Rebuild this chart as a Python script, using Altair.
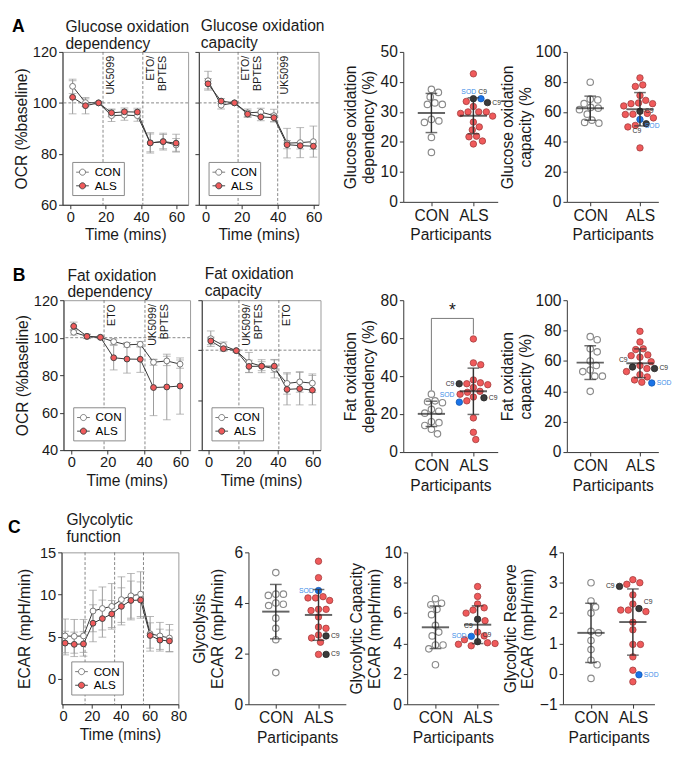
import altair as alt
import pandas as pd

FONT = "Liberation Sans"
RED = "#f05a5b"
RED_EDGE = "#a03c3c"
C9_FILL = "#3b3b3b"
SOD_FILL = "#1a73e8"
SOD_TEXT = "#3d8ee8"
GREY_EDGE = "#8a8a8a"
INK = "#1a1a1a"

groups = ["CON", "ALS"]

# ---------------- OCR time courses (panels A, B) ----------------
ocr_times = [1.3, 8.6, 16.0, 23.3, 30.6, 37.9, 45.2, 52.5, 59.8]

gdep_con_mean = [106.5, 100.1, 100.0, 95.0, 95.2, 95.0, 84.3, 84.8, 83.5]
gdep_con_sd = [2.8, 1.5, 0.5, 2.3, 2.0, 2.2, 3.5, 2.8, 2.5]
gdep_als_mean = [102.2, 98.9, 100.0, 96.1, 96.5, 96.4, 84.3, 84.8, 84.2]
gdep_als_sd = [6.5, 3.2, 0.5, 1.5, 1.5, 1.5, 4.0, 3.3, 3.5]
gdep_inj_t = [18.5, 41.0]
gdep_inj_lab = ["UK5099", "ETO/\nBPTES"]

gcap_con_mean = [108.7, 99.1, 100.0, 96.1, 96.4, 95.0, 84.2, 84.4, 84.8]
gcap_con_sd = [3.7, 1.5, 0.5, 1.5, 1.5, 2.5, 5.8, 5.9, 6.1]
gcap_als_mean = [107.5, 100.7, 100.0, 95.6, 94.5, 94.2, 83.6, 83.2, 83.0]
gcap_als_sd = [2.0, 1.0, 0.5, 1.3, 1.5, 1.5, 1.6, 1.3, 1.2]
gcap_inj_t = [18.0, 40.0]
gcap_inj_lab = ["ETO/\nBPTES", "UK5099"]

fdep_con_mean = [102.9, 100.7, 100.2, 97.9, 96.2, 96.5, 86.9, 87.6, 85.9]
fdep_con_sd = [1.5, 1.0, 0.5, 1.5, 1.2, 1.5, 1.6, 2.5, 2.2]
fdep_als_mean = [106.1, 100.7, 100.2, 89.3, 88.6, 88.5, 73.4, 73.7, 74.2]
fdep_als_sd = [2.2, 1.2, 0.5, 6.5, 7.5, 7.0, 15.0, 17.5, 15.0]
fdep_inj_t = [18.0, 40.5]
fdep_inj_lab = ["ETO", "UK5099/\nBPTES"]

fcap_con_mean = [104.6, 101.9, 99.8, 95.1, 93.6, 92.6, 86.7, 87.3, 86.8]
fcap_con_sd = [3.1, 1.4, 0.5, 4.0, 1.8, 3.7, 4.3, 4.1, 3.7]
fcap_als_mean = [103.7, 100.6, 99.8, 93.5, 93.6, 93.6, 84.3, 84.6, 84.0]
fcap_als_sd = [1.5, 1.0, 0.5, 2.5, 2.6, 2.5, 6.2, 6.5, 5.9]
fcap_inj_t = [17.5, 40.5]
fcap_inj_lab = ["UK5099/\nBPTES", "ETO"]

# ---------------- ECAR time course (panel C) ----------------
ecar_times = [1.5, 7.8, 14.2, 20.8, 27.3, 33.8, 40.5, 47.1, 53.8, 60.4, 67.2, 73.8]
ecar_con_mean = [5.1, 5.05, 5.1, 8.05, 8.35, 8.6, 9.4, 9.85, 10.05, 5.35, 5.1, 4.85]
ecar_con_sd = [2.0, 2.0, 1.95, 2.45, 2.55, 2.7, 2.7, 2.65, 2.65, 2.05, 1.6, 1.6]
ecar_als_mean = [4.25, 4.1, 4.15, 6.6, 7.15, 7.7, 8.6, 9.3, 9.35, 5.15, 4.6, 4.5]
ecar_als_sd = [1.4, 1.45, 1.45, 2.2, 2.2, 1.6, 2.2, 2.3, 2.15, 1.5, 1.3, 1.3]
ecar_inj_t = [15.3, 35.8, 55.8]

# ---------------- Participant scatter values ----------------
gdep_con = [37.5, 36.5, 35.0, 33.0, 32.5, 32.5, 27.5, 27.0, 26.5, 21.5, 16.5]
gdep_als = [42.7, 33.5, 31.8, 30.0, 30.0, 30.0, 29.5, 28.6, 26.6, 25.0, 24.0, 21.7, 21.9, 20.3, 19.3]
gdep_c9 = [34.4, 33.1]
gdep_sod = [34.4]

gcap_con = [79.8, 68.5, 68.0, 65.5, 63.0, 62.5, 61.5, 58.5, 54.5, 53.0, 52.5]
gcap_als = [82.7, 78.0, 77.0, 71.0, 67.7, 66.0, 65.5, 65.5, 64.0, 59.0, 58.5, 58.3, 56.0, 51.0, 50.0, 36.0]
gcap_c9 = [60.4, 52.1]
gcap_sod = [55.0]

fdep_con = [30.5, 27.0, 26.5, 26.0, 22.5, 21.5, 20.5, 16.0, 15.5, 14.0, 12.0, 9.6]
fdep_als = [59.6, 47.0, 46.0, 38.0, 36.5, 36.0, 35.5, 34.0, 32.0, 31.5, 30.5, 29.0, 27.0, 18.0, 10.4, 6.6]
fdep_c9 = [36.0, 28.6]
fdep_sod = [26.3]

fcap_con = [76.0, 74.0, 68.0, 66.0, 60.0, 57.0, 54.0, 53.0, 50.0, 50.0, 40.0]
fcap_als = [79.5, 72.5, 68.0, 67.5, 64.0, 63.5, 62.5, 59.5, 57.0, 55.0, 53.0, 51.0, 49.5, 47.5, 46.0]
fcap_c9 = [56.0, 55.0]
fcap_sod = [45.5]

glyc_con = [5.2, 4.35, 4.3, 4.35, 4.0, 3.95, 3.9, 3.4, 3.0, 2.55, 1.25]
glyc_als = [5.65, 5.0, 4.2, 4.2, 4.25, 4.1, 3.75, 3.7, 3.75, 3.45, 3.05, 3.0, 2.62, 2.74, 2.45, 1.97]
glyc_c9 = [2.7, 1.97]
glyc_sod = [4.49]

gcapy_con = [6.95, 6.65, 6.55, 6.25, 5.9, 5.2, 4.75, 4.5, 3.9, 3.9, 3.65, 2.6]
gcapy_als = [7.75, 7.1, 6.6, 6.35, 6.2, 6.0, 5.5, 4.75, 4.5, 4.25, 4.05, 4.0, 3.95, 3.85]
gcapy_c9 = [5.6, 4.12]
gcapy_sod = [4.47]

gres_con = [3.0, 2.4, 2.2, 2.0, 1.4, 1.35, 1.1, 0.8, 0.45, 0.3, -0.15]
gres_als = [3.1, 3.0, 2.95, 2.6, 2.3, 2.1, 2.1, 2.05, 1.7, 1.45, 0.97, 0.97, 0.56, 0.12, -0.26]
gres_c9 = [2.88, 2.15]
gres_sod = [-0.03]

LEG_SYMBOL = ("M-1,0L-0.48,0M0.48,0L1,0M-0.48,0A0.48,0.48,0,1,1,0.48,0"
              "A0.48,0.48,0,1,1,-0.48,0Z")

F_LAB = 15
F_LAB_DOT = 16
F_TITLE = 16


def line_panel(times, cm, cs, am, asd, inj_t, inj_lab, ydom, yticks, xdom, xticks,
               title, width, height, ytitle=None, show_ylabels=True, baseline=None,
               title_dx=2, title_offset=None, ytitle_pad=3):
    n = len(times)
    df = pd.DataFrame({"t": list(times) * 2,
                       "group": [groups[0]] * n + [groups[1]] * n,
                       "m": list(cm) + list(am),
                       "sd": list(cs) + list(asd)})
    xs = alt.Scale(domain=xdom, nice=False, zero=False)
    ys = alt.Scale(domain=ydom, nice=False, zero=False)
    xaxis = alt.Axis(values=xticks, title="Time (mins)", labelFontSize=F_LAB,
                     titleFontSize=F_TITLE, titleFontWeight="normal", tickSize=4,
                     labelPadding=1, titlePadding=3)
    yaxis = alt.Axis(values=yticks, title=ytitle, labels=show_ylabels, labelFontSize=F_LAB,
                     titleFontSize=F_TITLE, titleFontWeight="normal", tickSize=4,
                     labelPadding=2, titlePadding=ytitle_pad)
    X = alt.X("t:Q", scale=xs, axis=xaxis)
    layers = []
    guide = dict(color="#666", strokeDash=[3, 2], strokeWidth=0.8)
    layers.append(alt.Chart(pd.DataFrame({"t": inj_t})).mark_rule(**guide).encode(x=X))
    if baseline is not None:
        layers.append(alt.Chart(pd.DataFrame({"b": [baseline]})).mark_rule(**guide)
                      .encode(y=alt.Y("b:Q", scale=ys, axis=yaxis)))
    base = alt.Chart(df)
    eb = base.transform_calculate(lo="datum.m - datum.sd", hi="datum.m + datum.sd")
    layers.append(eb.mark_rule(color="#9a9a9a", strokeWidth=1)
                  .encode(x=X, y=alt.Y("lo:Q", scale=ys, axis=yaxis), y2="hi:Q"))
    layers.append(eb.transform_fold(["lo", "hi"], as_=["k", "cv"])
                  .mark_tick(orient="horizontal", size=8, thickness=1, color="#9a9a9a")
                  .encode(x=X, y=alt.Y("cv:Q", scale=ys, axis=yaxis)))
    layers.append(base.mark_line(color="#333", strokeWidth=1)
                  .encode(x=X, y=alt.Y("m:Q", scale=ys, axis=yaxis), detail="group:N"))
    leg = alt.Legend(orient="bottom-left", title=None, offset=10, padding=3, rowPadding=0,
                     strokeColor="#888", fillColor="white", labelFontSize=12,
                     labelFont=FONT, labelFontWeight="normal", symbolSize=170,
                     symbolStrokeWidth=1, symbolType=LEG_SYMBOL, labelOffset=5)
    layers.append(base.mark_circle(size=36, opacity=1, strokeWidth=1)
                  .encode(x=X, y=alt.Y("m:Q", scale=ys, axis=yaxis),
                          fill=alt.Fill("group:N", scale=alt.Scale(domain=groups, range=["white", RED]), legend=leg),
                          stroke=alt.Stroke("group:N", scale=alt.Scale(domain=groups, range=["#777", "#444"]), legend=leg)))
    if inj_lab:
        ldf = pd.DataFrame({"t": inj_t, "lab": inj_lab, "yy": [ydom[1]] * len(inj_t)})
        layers.append(alt.Chart(ldf).mark_text(angle=270, align="right", baseline="top", dx=-4, dy=2,
                                               fontSize=11, font=FONT, lineBreak="\n", color=INK)
                      .encode(x=X, y=alt.Y("yy:Q", scale=ys, axis=yaxis), text="lab:N"))
    if title_offset is None:
        title_offset = -7 if show_ylabels else 1
    return alt.layer(*layers).properties(
        width=width, height=height,
        title=alt.TitleParams(title, anchor="start", frame="group", fontSize=F_TITLE, lineHeight=17,
                              offset=title_offset, dx=title_dx, font=FONT, fontWeight="normal", color=INK),
        view=alt.ViewBackground(stroke="#999", strokeWidth=1))


def swarm(values, ypx, xpx, d=7.8):
    order = sorted(range(len(values)), key=lambda i: -values[i])
    placed = []
    offs = [0.0] * len(values)
    for i in order:
        y = values[i] * ypx
        cands = [0.0]
        for px, py in placed:
            dy = abs(py - y)
            if dy < d:
                w = (d * d - dy * dy) ** 0.5
                cands += [px - w, px + w]
        cands.sort(key=lambda c: (round(abs(c), 6), -c))
        chosen = 0.0
        for c in cands:
            if all((c - px) ** 2 + (y - py) ** 2 >= d * d - 1e-6 for px, py in placed):
                chosen = c
                break
        placed.append((chosen, y))
        offs[i] = chosen / xpx
    return offs


def place_labels(df, xpx, ypx, fs=7):
    """Choose a side / vertical shift for each C9/SOD label, avoiding points and other labels."""
    pts = [(r.x * xpx, -r.v * ypx) for r in df.itertuples()]
    boxes = []
    side = {i: "r" for i in df.index}
    shift = {i: 0 for i in df.index}
    special = df[df["lab"] != ""].sort_values("v", ascending=False)
    for idx, r in special.iterrows():
        px, py = r["x"] * xpx, -r["v"] * ypx
        w, h = 0.62 * fs * len(r["lab"]), fs + 1
        pref = "l" if r["off"] < -1e-9 else "r"
        other = "r" if pref == "l" else "l"
        best = None
        for k, (s, dy) in enumerate([(pref, 0), (other, 0), (pref, -7), (other, -7),
                                     (pref, 7), (other, 7)]):
            x0 = px + 5 if s == "r" else px - 5 - w
            y0 = py + dy - h / 2
            box = (x0, y0, x0 + w, y0 + h)
            score = 0
            for (qx, qy) in pts:
                if (qx, qy) == (px, py):
                    continue
                if box[0] - 3 < qx < box[2] + 3 and box[1] - 3 < qy < box[3] + 3:
                    score += 1
            for b in boxes:
                if not (box[2] < b[0] or box[0] > b[2] or box[3] < b[1] or box[1] > b[3]):
                    score += 10
            score = score * 10 + k
            if best is None or score < best[0]:
                best = (score, s, dy, box)
        side[idx], shift[idx] = best[1], best[2]
        boxes.append(best[3])
    return [side[i] for i in df.index], [shift[i] for i in df.index]


def dot_panel(con, als, c9, sod, ydom, yticks, xdom, ytitle, width, height, bracket=False, ytitle_pad=4):
    ypx = height / (ydom[1] - ydom[0])
    xpx = width / (xdom[1] - xdom[0])
    rows = []
    for v, o in zip(con, swarm(con, ypx, xpx)):
        rows.append({"xc": 0, "v": v, "kind": "con", "off": o})
    vals = list(als) + list(c9) + list(sod)
    kinds = ["als"] * len(als) + ["c9"] * len(c9) + ["sod"] * len(sod)
    for v, k, o in zip(vals, kinds, swarm(vals, ypx, xpx)):
        rows.append({"xc": 1, "v": v, "kind": k, "off": o})
    df = pd.DataFrame(rows)
    df["x"] = df["xc"] + df["off"]
    df["lab"] = df["kind"].map({"c9": "C9", "sod": "SOD"}).fillna("")
    df["side"], df["shift"] = place_labels(df, xpx, ypx)

    xs = alt.Scale(domain=xdom, nice=False, zero=False)
    ys = alt.Scale(domain=ydom, nice=False, zero=False)
    xaxis = alt.Axis(values=[0, 1], labelExpr=f"datum.value == 0 ? '{groups[0]}' : '{groups[1]}'",
                     title="Participants", labelFontSize=F_LAB_DOT, titleFontSize=F_TITLE,
                     titleFontWeight="normal", tickSize=4, labelPadding=2, titlePadding=4)
    yaxis = alt.Axis(values=yticks, title=ytitle, labelFontSize=F_LAB_DOT, titleFontSize=F_TITLE,
                     titleFontWeight="normal", titleLineHeight=18, tickSize=4,
                     labelPadding=2, titlePadding=ytitle_pad)
    X = alt.X("x:Q", scale=xs, axis=xaxis)
    Y = alt.Y("v:Q", scale=ys, axis=yaxis)
    base = alt.Chart(df)
    layers = []
    styles = [("con", "white", GREY_EDGE, 1.2), ("als", RED, RED_EDGE, 0.8),
              ("c9", C9_FILL, "#222", 0.8), ("sod", SOD_FILL, "#1559b0", 0.8)]
    for kind, fill, stroke, sw in styles:
        layers.append(base.transform_filter(alt.datum.kind == kind)
                      .mark_circle(size=44, opacity=1, fill=fill, stroke=stroke, strokeWidth=sw)
                      .encode(x=X, y=Y))
    stats = base.transform_aggregate(mean="mean(v)", sd="stdev(v)", groupby=["xc"]) \
        .transform_calculate(lo="datum.mean - datum.sd", hi="datum.mean + datum.sd")
    XC = alt.X("xc:Q", scale=xs, axis=xaxis)
    layers.append(stats.mark_rule(color="#333", strokeWidth=1.5)
                  .encode(x=XC, y=alt.Y("lo:Q", scale=ys, axis=yaxis), y2="hi:Q"))
    layers.append(stats.transform_fold(["lo", "hi"], as_=["k", "cv"])
                  .mark_tick(orient="horizontal", size=12, thickness=1.5, color="#333")
                  .encode(x=XC, y=alt.Y("cv:Q", scale=ys, axis=yaxis)))
    layers.append(stats.mark_tick(orient="horizontal", size=28, thickness=2, color="#222")
                  .encode(x=XC, y=alt.Y("mean:Q", scale=ys, axis=yaxis)))
    tcol = alt.Color("kind:N", scale=alt.Scale(domain=["c9", "sod"], range=["#333", SOD_TEXT]), legend=None)
    combos = sorted(set(zip(df.loc[df["lab"] != "", "side"], df.loc[df["lab"] != "", "shift"])))
    for s, dy in combos:
        layers.append(base.transform_filter((alt.datum.lab != "") & (alt.datum.side == s) & (alt.datum.shift == dy))
                      .mark_text(align="left" if s == "r" else "right", baseline="middle",
                                 dx=5 if s == "r" else -5, dy=dy, fontSize=7, font=FONT)
                      .encode(x=X, y=Y, text="lab:N", color=tcol))
    if bracket:
        vmax_con = max(con)
        vmax_als = max(vals)
        top = vmax_als + 10.8
        bdf = pd.DataFrame({"xc": [0, 0, 1, 1], "v": [vmax_con + 2.0, top, top, vmax_als + 2.4],
                            "o": [0, 1, 2, 3]})
        layers.append(alt.Chart(bdf).mark_line(color="#777", strokeWidth=1)
                      .encode(x=XC, y=alt.Y("v:Q", scale=ys, axis=yaxis), order="o:Q"))
        sdf = pd.DataFrame({"xc": [0.5], "v": [top], "s": ["*"]})
        layers.append(alt.Chart(sdf).mark_text(fontSize=18, font=FONT, baseline="bottom", dy=2, color=INK)
                      .encode(x=XC, y=alt.Y("v:Q", scale=ys, axis=yaxis), text="s:N"))
    return alt.layer(*layers).properties(width=width, height=height)


def spacer(w, h=10):
    return alt.Chart(pd.DataFrame({"s": [0]})).mark_point(opacity=0, size=1).encode(
        x=alt.value(0), y=alt.value(0)).properties(width=w, height=h)


def letter_chart(letter, dx):
    return alt.Chart(pd.DataFrame({"L": [letter]})).mark_text(
        font=FONT, fontSize=18, fontWeight="bold", align="left", baseline="alphabetic",
        color="black").encode(x=alt.value(dx), y=alt.value(-20), text="L:N").properties(width=1, height=10)


def row(letter, panels, ref_boxes, gap):
    """Place panels so that their plot areas sit near the reference x positions."""
    left0 = ref_boxes[0][0]
    items = [letter_chart(letter, -(left0 - 8 - 1 - gap))]
    for i, p in enumerate(panels):
        if i > 0:
            prev_right = ref_boxes[i - 1][0] + ref_boxes[i - 1][1]
            sp = ref_boxes[i][0] - prev_right - 2 * gap
            if sp >= 1:
                items.append(spacer(round(sp, 1)))
        items.append(p)
    ind = dict(fill="independent", stroke="independent")
    return alt.hconcat(*items, spacing=gap, bounds="flush").resolve_scale(**ind).resolve_legend(**ind)


A1 = line_panel(ocr_times, gdep_con_mean, gdep_con_sd, gdep_als_mean, gdep_als_sd, gdep_inj_t, gdep_inj_lab,
                [60, 120], [60, 80, 100, 120], [-4.4, 66.6], [0, 20, 40, 60],
                ["Glucose oxidation", "dependency"], 129, 157, ytitle="OCR (%baseline)", baseline=100,
                title_dx=3)
A2 = line_panel(ocr_times, gcap_con_mean, gcap_con_sd, gcap_als_mean, gcap_als_sd, gcap_inj_t, gcap_inj_lab,
                [60, 120], [60, 80, 100, 120], [-3.8, 62.7], [0, 20, 40, 60],
                ["Glucose oxidation", "capacity"], 123, 157, show_ylabels=False, baseline=100)
A3 = dot_panel(gdep_con, gdep_als, gdep_c9, gdep_sod, [0, 50], [0, 10, 20, 30, 40, 50], [-0.67, 1.58],
               ["Glucose oxidation", "dependency (%)"], 97, 154, ytitle_pad=4)
A4 = dot_panel(gcap_con, gcap_als, gcap_c9, gcap_sod, [0, 100], [0, 20, 40, 60, 80, 100], [-0.47, 1.37],
               ["Glucose oxidation", "capacity (%"], 94, 154, ytitle_pad=2)

B1 = line_panel(ocr_times, fdep_con_mean, fdep_con_sd, fdep_als_mean, fdep_als_sd, fdep_inj_t, fdep_inj_lab,
                [40, 120], [40, 60, 80, 100, 120], [-4.3, 65.3], [0, 20, 40, 60],
                ["Fat oxidation", "dependency"], 130, 154, ytitle="OCR (%baseline)", baseline=100,
                title_dx=4)
B2 = line_panel(ocr_times, fcap_con_mean, fcap_con_sd, fcap_als_mean, fcap_als_sd, fcap_inj_t, fcap_inj_lab,
                [60, 120], [60, 80, 100, 120], [-3.9, 64.5], [0, 20, 40, 60],
                ["Fat oxidation", "capacity"], 122, 154, show_ylabels=False, baseline=100, title_dx=3)
B3 = dot_panel(fdep_con, fdep_als, fdep_c9, fdep_sod, [0, 80], [0, 20, 40, 60, 80], [-0.67, 1.58],
               ["Fat oxidation", "dependency (%)"], 97, 156, bracket=True, ytitle_pad=4)
B4 = dot_panel(fcap_con, fcap_als, fcap_c9, fcap_sod, [0, 100], [0, 20, 40, 60, 80, 100], [-0.47, 1.37],
               ["Fat oxidation", "capacity (%)"], 94, 156, ytitle_pad=2)

C1 = line_panel(ecar_times, ecar_con_mean, ecar_con_sd, ecar_als_mean, ecar_als_sd, ecar_inj_t, None,
                [-3, 15], [0, 5, 10, 15], [-1, 80], [0, 20, 40, 60, 80],
                ["Glycolytic", "function"], 120, 156, ytitle="ECAR (mpH/min)", title_dx=5,
                title_offset=1, ytitle_pad=7)
C2 = dot_panel(glyc_con, glyc_als, glyc_c9, glyc_sod, [0, 6], [0, 2, 4, 6], [-0.64, 1.64],
               ["Glycolysis", "ECAR (mpH/min)"], 100, 156, ytitle_pad=9)
C3 = dot_panel(gcapy_con, gcapy_als, gcapy_c9, gcapy_sod, [0, 10], [0, 2, 4, 6, 8, 10], [-0.67, 1.5],
               ["Glycolytic Capacity", "ECAR (mpH/min)"], 94, 156, ytitle_pad=2)
C4 = dot_panel(gres_con, gres_als, gres_c9, gres_sod, [-1, 4], [-1, 0, 1, 2, 3, 4], [-0.67, 1.516],
               ["Glycolytic Reserve", "ECAR (mpH/min)"], 94, 156, ytitle_pad=4)

rowA = row("A", [A1, A2, A3, A4], [(60, 129), (200, 123), (410, 97), (578, 94)], 11)
rowB = row("B", [B1, B2, B3, B4], [(60, 130), (203, 122), (410, 97), (578, 94)], 12)
rowC = row("C", [C1, C2, C3, C4], [(63, 120), (255, 100), (418, 94), (578, 94)], 10)

ind = dict(fill="independent", stroke="independent")
chart = alt.vconcat(rowA, spacer(1, 22), rowB, spacer(1, 18), rowC, spacing=0) \
    .properties(padding={"left": 0, "top": 0, "right": 0, "bottom": 0}) \
    .resolve_scale(**ind).resolve_legend(**ind) \
    .configure(font=FONT) \
    .configure_view(stroke=None) \
    .configure_axis(grid=False, labelFont=FONT, titleFont=FONT, labelColor=INK, titleColor=INK,
                    domainColor="#333", tickColor="#333", titleFontWeight="normal", labelFlush=False) \
    .configure_title(font=FONT, fontWeight="normal", color=INK)

chart.save("out.html", embed_options={"renderer": "svg", "actions": False})
